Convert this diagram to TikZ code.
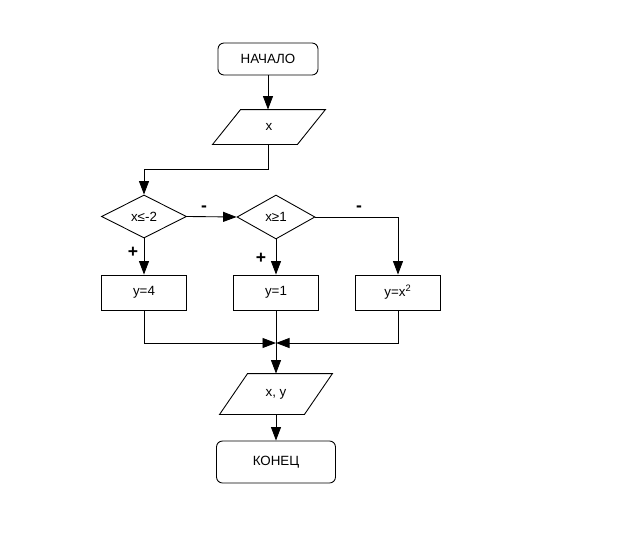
\documentclass[tikz,border=0pt]{standalone}
\usepackage{fontspec}
\setmainfont{Liberation Sans}
\usetikzlibrary{arrows.meta,shapes.geometric,positioning}

% slanted outline round a plain io node
\newcommand{\iobox}[2]{%
  \draw ([xshift=#2]#1.north west) -- ([xshift=#2]#1.north east)
    -- ([xshift=-#2]#1.south east) -- ([xshift=-#2]#1.south west) -- cycle;}

\begin{document}
\begin{tikzpicture}[
    font=\fontsize{7.6}{9}\selectfont,
    line width=0.5pt,
    arr/.style={-{Triangle[length=0.27cm,width=0.2cm]}},
    term/.style={rectangle, rounded corners=0.12cm, draw, minimum width=2.0cm, minimum height=0.64cm},
    io/.style={rectangle, inner sep=1pt, minimum width=1.68cm, minimum height=0.68cm},
    cond/.style={diamond, draw, inner sep=0pt, minimum width=1.7cm, minimum height=0.86cm},
    proc/.style={rectangle, draw, minimum width=1.7cm, minimum height=0.7cm},
    sign/.style={font=\fontsize{10}{12}\selectfont\bfseries}
  ]
    % page size of the reference
    \useasboundingbox (0,0) rectangle (12.4,11.1);

    % column positions
    \def\xl{2.88}
    \def\xm{5.52}
    \def\xr{7.96}
    \def\yb{5.25}

    % blocks
    \node[term] (start) at (5.36,9.92) {НАЧАЛО};
    \node[io] (in) at (5.38,8.56) {x};
    \iobox{in}{0.28cm}
    \node[cond] (c1) at (\xl,6.77) {x≤-2};
    \node[cond, minimum width=1.56cm, minimum height=0.88cm] (c2) at (\xm,6.76) {x≥1};
    \node[proc] (b1) at (\xl,\yb) {y=4};
    \node[proc] (b2) at (\xm,\yb) {y=1};
    \node[proc] (b3) at (\xr,\yb) {y=x\textsuperscript{2}};
    \coordinate (join) at (\xm,4.24);
    \node[io, minimum height=0.8cm] (out) at (\xm,3.22) {x, y};
    \iobox{out}{0.28cm}
    \node[term, minimum width=2.38cm, minimum height=0.84cm] (stop) at (\xm,1.86) {КОНЕЦ};

    % connectors
    \draw[arr] (start.south) -- (start.south |- in.north);
    \draw[arr] (start.south |- in.south) -- ++(0,-0.5) -| (c1.north);
    \draw[arr] (c1.east) -- (c2.west);
    \draw[arr] (c2.east) -| (b3.north);
    \draw[arr] (c1.south) -- (b1.north);
    \draw[arr] (c2.south) -- (b2.north);
    \draw[arr] (b1.south) |- (join);
    \draw[arr] (b3.south) |- (join);
    \draw[arr] (b2.south) -- (out.north);
    \draw[arr] (out.south) -- (stop.north);

    % branch signs
    \node[sign] (m1) at (4.08,6.92) {-};
    \node[sign] (m2) at (7.18,6.92) {-};
    \node[sign] (p1) at (2.66,6.06) {+};
    \node[sign] (p2) at (5.22,5.94) {+};
  \end{tikzpicture}
\end{document}
